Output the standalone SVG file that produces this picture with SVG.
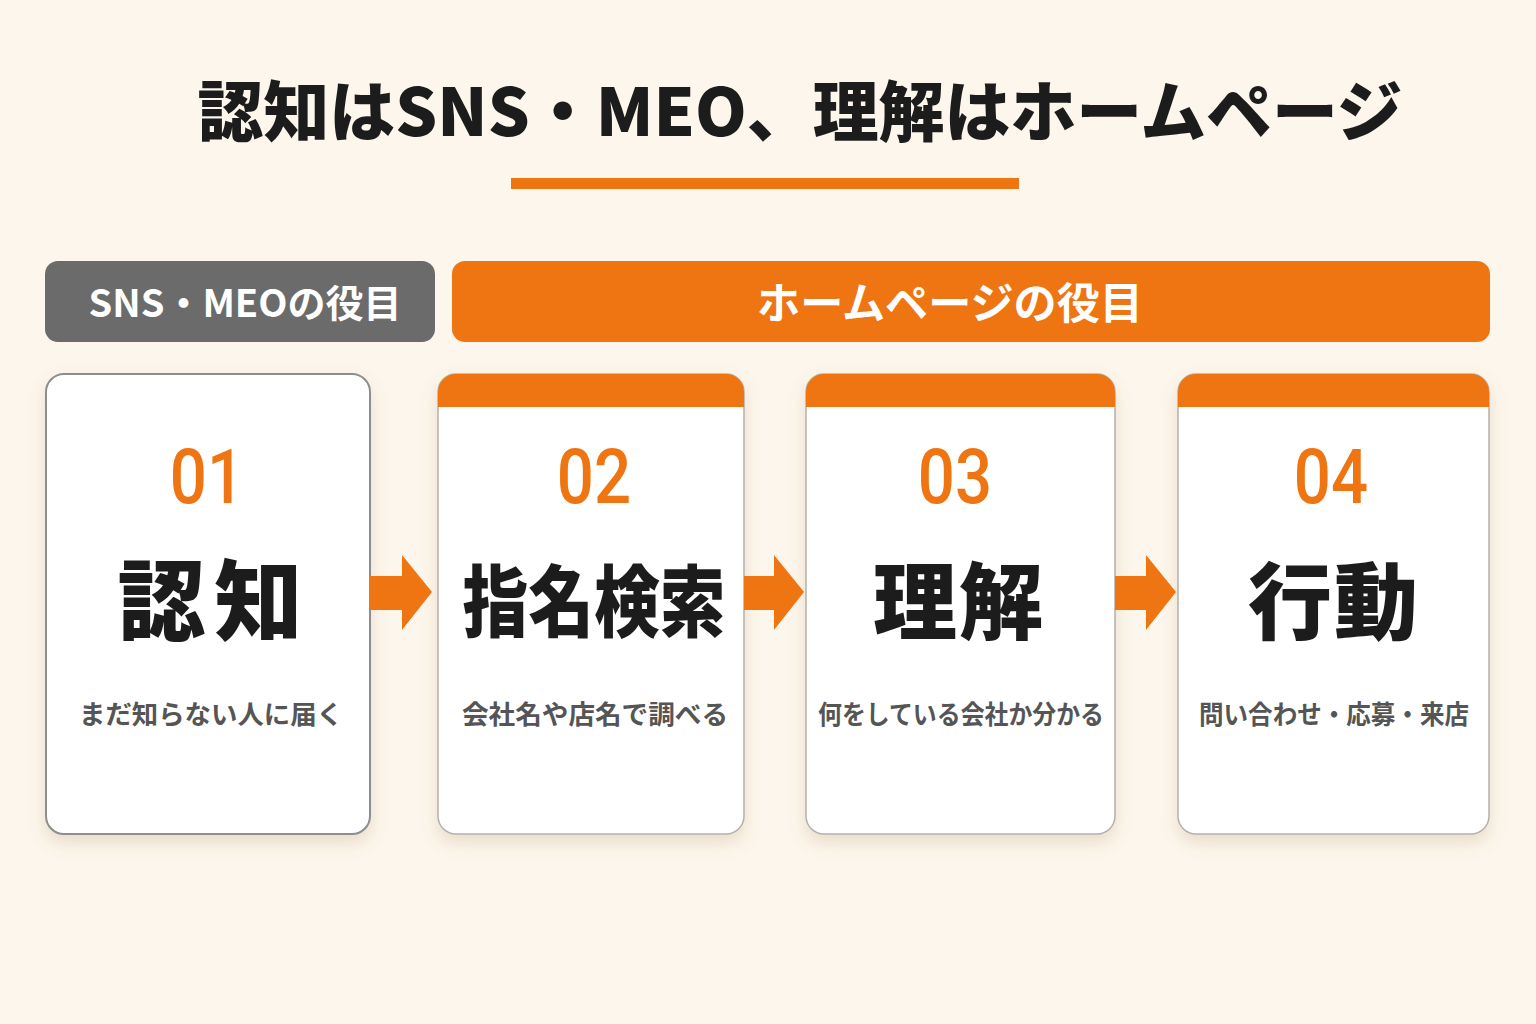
<svg xmlns="http://www.w3.org/2000/svg" width="1536" height="1024" viewBox="0 0 1536 1024">
<defs>
<filter id="sh" x="-10%" y="-10%" width="120%" height="125%">
<feDropShadow dx="0" dy="8" stdDeviation="8" flood-color="#8a6a40" flood-opacity="0.18"/>
</filter>
<clipPath id="c2"><rect x="438" y="374" width="306" height="460" rx="18"/></clipPath>
<clipPath id="c3"><rect x="806" y="374" width="309" height="460" rx="18"/></clipPath>
<clipPath id="c4"><rect x="1178" y="374" width="311" height="460" rx="18"/></clipPath>
</defs>
<style>
.jp{font-family:"Noto Sans CJK JP","Noto Sans",sans-serif;}
.title{font-size:66px;font-weight:900;fill:#1c1c1c;}
.band{font-size:38px;font-weight:700;fill:#ffffff;}
.num{font-family:Roboto,"Noto Sans",sans-serif;font-size:76px;font-weight:500;fill:#ee7512;}
.main{font-weight:900;fill:#1c1c1c;}
.sub{font-size:26px;font-weight:700;fill:#555555;}
.card{fill:#ffffff;stroke:#b5b0aa;stroke-width:1.5;}
.card1{fill:#ffffff;stroke:#8e8e8e;stroke-width:2;}
.hdr{fill:#ee7512;}
.arrow{fill:#ee7512;}
</style>
<rect width="1536" height="1024" fill="#fdf6ec"/>
<g id="title">
<text class="jp title" x="800" y="136" text-anchor="middle" textLength="1205" lengthAdjust="spacingAndGlyphs">認知はSNS・MEO、理解はホームページ</text>
<rect x="511" y="178" width="508" height="11" fill="#ee7512"/>
</g>
<g id="band-sns">
<rect x="45" y="261" width="390" height="81" rx="13" fill="#6b6b6b"/>
<text class="jp band" x="245" y="317" text-anchor="middle">SNS・MEOの役目</text>
</g>
<g id="band-hp">
<rect x="452" y="261" width="1038" height="81" rx="13" fill="#ee7512"/>
<text class="jp band" x="950" y="319" text-anchor="middle" style="font-size:43px" textLength="386" lengthAdjust="spacingAndGlyphs">ホームページの役目</text>
</g>
<g id="card1">
<rect class="card1" x="46" y="374" width="324" height="460" rx="18" filter="url(#sh)"/>
<text class="num" transform="translate(207,503) scale(0.86,1)" text-anchor="middle">01</text>
<text class="jp main" x="210" y="633" text-anchor="middle" style="font-size:88px" textLength="185" lengthAdjust="spacing">認知</text>
<text class="jp sub" x="211" y="724" text-anchor="middle" textLength="264" lengthAdjust="spacingAndGlyphs">まだ知らない人に届く</text>
</g>
<g id="card2">
<rect class="card" x="438" y="374" width="306" height="460" rx="18" filter="url(#sh)"/>
<rect class="hdr" x="438" y="374" width="306" height="33" clip-path="url(#c2)"/>
<text class="num" transform="translate(594,503) scale(0.86,1)" text-anchor="middle">02</text>
<text class="jp main" x="594" y="631" text-anchor="middle" style="font-size:78px" textLength="263" lengthAdjust="spacingAndGlyphs">指名検索</text>
<text class="jp sub" x="595" y="724" text-anchor="middle" textLength="266" lengthAdjust="spacingAndGlyphs">会社名や店名で調べる</text>
</g>
<g id="card3">
<rect class="card" x="806" y="374" width="309" height="460" rx="18" filter="url(#sh)"/>
<rect class="hdr" x="806" y="374" width="309" height="33" clip-path="url(#c3)"/>
<text class="num" transform="translate(955,503) scale(0.86,1)" text-anchor="middle">03</text>
<text class="jp main" x="958" y="633" text-anchor="middle" style="font-size:84px" textLength="170" lengthAdjust="spacing">理解</text>
<text class="jp sub" x="961" y="724" text-anchor="middle" textLength="286" lengthAdjust="spacingAndGlyphs">何をしている会社か分かる</text>
</g>
<g id="card4">
<rect class="card" x="1178" y="374" width="311" height="460" rx="18" filter="url(#sh)"/>
<rect class="hdr" x="1178" y="374" width="311" height="33" clip-path="url(#c4)"/>
<text class="num" transform="translate(1331,503) scale(0.86,1)" text-anchor="middle">04</text>
<text class="jp main" x="1333" y="633" text-anchor="middle" style="font-size:84px" textLength="170" lengthAdjust="spacing">行動</text>
<text class="jp sub" x="1334" y="724" text-anchor="middle" textLength="270" lengthAdjust="spacingAndGlyphs">問い合わせ・応募・来店</text>
</g>
<g id="connectors">
<polygon class="arrow" points="370,576 402,576 402,555 432,592 402,630 402,610 370,610"/>
<polygon class="arrow" points="744,576 774,576 774,555 804,592 774,630 774,610 744,610"/>
<polygon class="arrow" points="1115,576 1146,576 1146,555 1176,592 1146,630 1146,610 1115,610"/>
</g>
</svg>
